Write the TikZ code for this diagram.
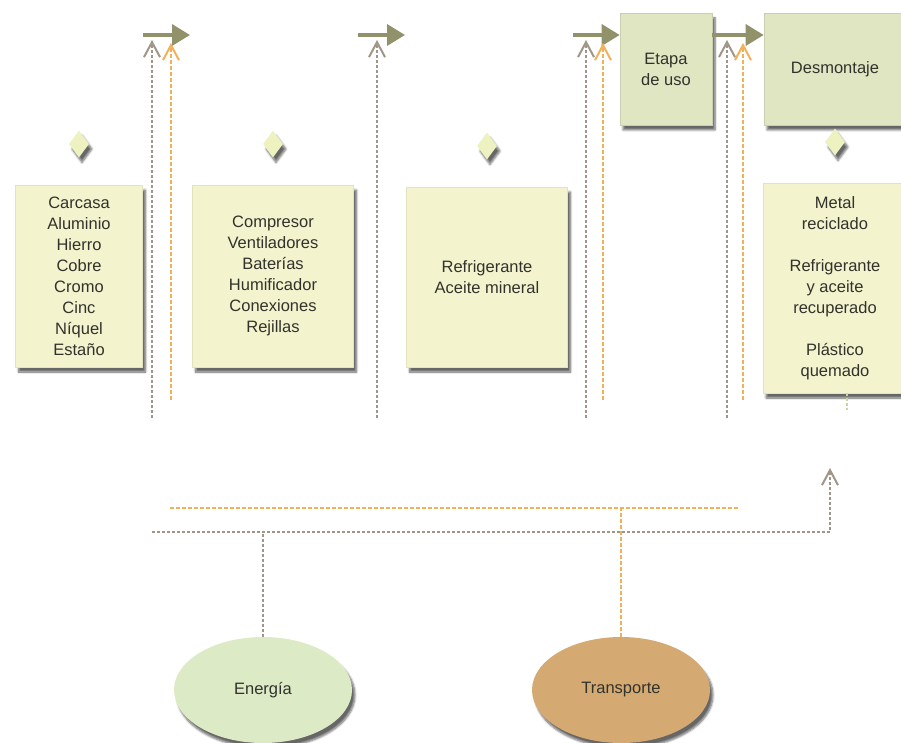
\documentclass[tikz,border=0pt]{standalone}
\usepackage{fontspec}
\setmainfont{Liberation Sans}
\usetikzlibrary{shapes.geometric, arrows.meta, positioning, shadows.blur}

\definecolor{partfill}{RGB}{243,244,206}
\definecolor{partdraw}{RGB}{226,228,190}
\definecolor{stagefill}{RGB}{224,230,194}
\definecolor{gemfill}{RGB}{238,241,192}
\definecolor{olive}{RGB}{146,146,106}
\definecolor{dashgray}{RGB}{160,150,136}
\definecolor{dashorange}{RGB}{242,176,88}
\definecolor{energyfill}{RGB}{221,234,198}
\definecolor{transfill}{RGB}{212,170,114}
\definecolor{tickgreen}{RGB}{196,216,160}
\definecolor{txtgray}{RGB}{50,50,44}

\tikzset{
  shade/.style={blur shadow={shadow xshift=3pt, shadow yshift=-5pt, shadow opacity=60, shadow blur steps=6}},
  part/.style={rectangle, draw=partdraw, fill=partfill, line width=0.6pt, shade,
    font=\fontsize{16.5}{21}\selectfont, text=txtgray, align=center, inner sep=2pt},
  stage/.style={part, fill=stagefill, draw=stagefill!90!black},
  gem/.style={diamond, draw=none, fill=gemfill, minimum width=20pt, minimum height=27pt,
    inner sep=0pt, shade},
  blob/.style={ellipse, minimum width=178pt, minimum height=106pt, shade,
    font=\fontsize{16.5}{21}\selectfont, text=txtgray},
  flow/.style={-{Triangle[length=18pt,width=21pt]}, line width=3.5pt, olive},
  gline/.style={line width=2.2pt, dashgray, dash pattern=on 3pt off 2pt},
  oline/.style={line width=2.2pt, dashorange, dash pattern=on 4pt off 2pt},
  garrow/.style={gline, -{Straight Barb[length=15pt,width=16pt,line width=2pt]}},
  oarrow/.style={oline, -{Straight Barb[length=15pt,width=16pt,line width=2pt]}}
}

\begin{document}
\begin{tikzpicture}[x=1pt, y=-1pt, node distance=27pt]
  \useasboundingbox (0,0) rectangle (901,743);
  \clip (0,0) rectangle (901,743);

  % material boxes
  \node[part, minimum width=127pt, minimum height=182pt] (carcasa) at (79,276)
    {Carcasa\\Aluminio\\Hierro\\Cobre\\Cromo\\Cinc\\Níquel\\Estaño};
  \node[part, minimum width=161pt, minimum height=182pt] (compon) at (273,276)
    {Compresor\\Ventiladores\\Baterías\\Humificador\\Conexiones\\Rejillas};
  \node[part, minimum width=161pt, minimum height=180pt] (fluidos) at (487,277)
    {Refrigerante\\Aceite mineral};
  \node[part, minimum width=144pt, minimum height=210pt] (residuos) at (835,288)
    {Metal\\reciclado\\[21pt]Refrigerante\\y aceite\\recuperado\\[21pt]Plástico\\quemado};

  % stages
  \node[stage, minimum width=92pt, minimum height=112pt] (uso) at (666,69) {Etapa\\de uso};
  \node[stage, minimum width=142pt, minimum height=112pt] (desm) at (835,69) {Desmontaje};

  \node[gem, above=of carcasa] (gem1) {};
  \node[gem, above=of compon] (gem2) {};
  \node[gem, above=of fluidos] (gem3) {};
  \node[gem, above=of residuos] (gem4) {};

  % inputs
  \node[blob, fill=energyfill] (energia) at (263,690) {Energía};
  \node[blob, fill=transfill] (transp) at (621,690) {Transporte};

  % main flow
  \coordinate (f1s) at (143,35); \coordinate (f1e) at (190,35);
  \coordinate (f2s) at (358,35); \coordinate (f2e) at (405,35);
  \coordinate (f3s) at (573,35);
  \draw[flow] (f1s) -- (f1e);
  \draw[flow] (f2s) -- (f2e);
  \draw[flow] (f3s) -- (f3s -| uso.west);
  \draw[flow] (uso.east |- f3s) -- (desm.west |- f3s);

  % energy and transport risers
  \coordinate (g1b) at (152,418); \coordinate (g1t) at (152,40);
  \coordinate (o1b) at (171,400); \coordinate (o1t) at (171,43);
  \coordinate (g2b) at (377,418); \coordinate (g2t) at (377,40);
  \coordinate (g3b) at (586,418); \coordinate (g3t) at (586,40);
  \coordinate (o3b) at (603,400); \coordinate (o3t) at (603,43);
  \coordinate (g4b) at (727,418); \coordinate (g4t) at (727,40);
  \coordinate (o4b) at (743,400); \coordinate (o4t) at (743,43);
  \draw[garrow] (g1b) -- (g1t);
  \draw[oarrow] (o1b) -- (o1t);
  \draw[garrow] (g2b) -- (g2t);
  \draw[garrow] (g3b) -- (g3t);
  \draw[oarrow] (o3b) -- (o3t);
  \draw[garrow] (g4b) -- (g4t);
  \draw[oarrow] (o4b) -- (o4t);

  % bottom distribution lines
  \coordinate (obusl) at (170,508); \coordinate (obusr) at (740,508);
  \coordinate (gbusl) at (152,532); \coordinate (gtip) at (830,468);
  \draw[oline] (obusl) -- (obusr);
  \draw[garrow] (gbusl) -| (gtip);
  \draw[gline] (energia.north) -- (energia.north |- gbusl);
  \draw[oline] (transp.north) -- (transp.north |- obusl);

  \coordinate (tick) at (847,410);
  \draw[line width=1.5pt, tickgreen, dash pattern=on 3pt off 2pt] (residuos.south -| tick) -- (tick);
\end{tikzpicture}
\end{document}
